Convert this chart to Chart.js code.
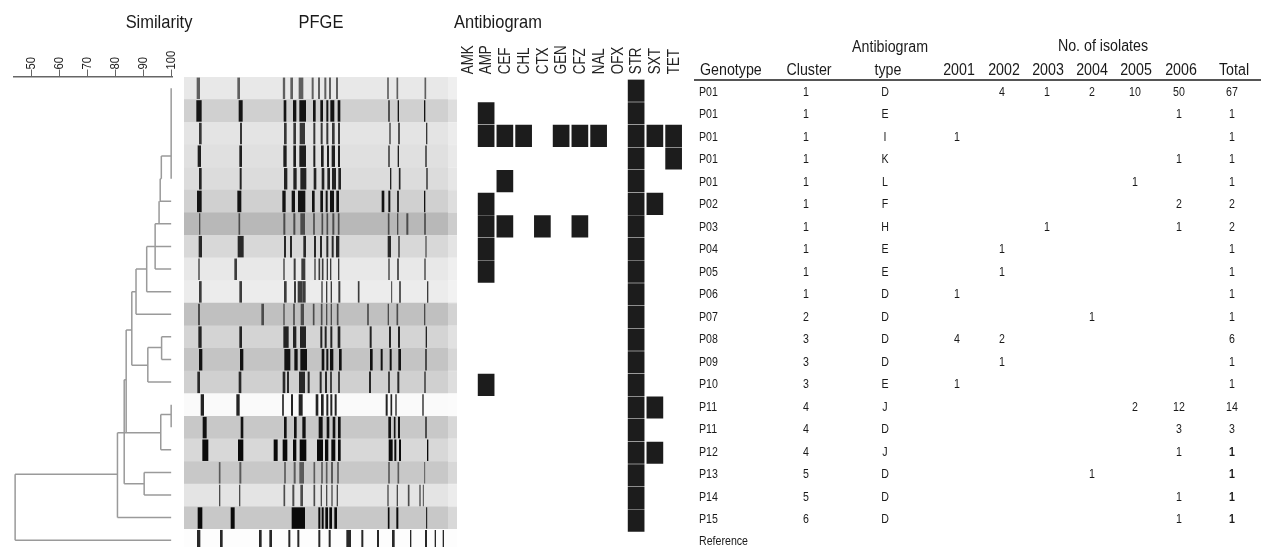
<!DOCTYPE html>
<html><head><meta charset="utf-8">
<style>
html,body{margin:0;padding:0;background:#fff;overflow:hidden;width:1261px;height:547px}
canvas{position:absolute}
#root{filter:blur(.25px);position:absolute;left:0;top:0;width:1261px;height:547px}
#gelWrap{filter:blur(.6px);position:absolute;left:184px;top:77px;width:273px;height:475px}
#heatWrap{filter:blur(.3px);position:absolute;left:448px;top:0;width:245px;height:532px}
#dendroWrap{filter:blur(.3px);position:absolute;left:4px;top:0;width:178px;height:547px}
.t{position:absolute;white-space:pre;font-family:"Liberation Sans",Arial,sans-serif;color:#1a1a1a;line-height:1;transform-origin:50% 50%}
.title{font-size:19px;transform:translate(-50%,-50%) scaleX(.866)}
.head{font-size:16px;transform:translate(-50%,-50%) scaleX(.89)}
.body{font-size:12.5px;transform:translate(-50%,-50%) scaleX(.85)}
.l{transform-origin:0 50%}
.head.l{transform:translate(0,-50%) scaleX(.89)}
.body.l{transform:translate(0,-50%) scaleX(.85)}
.b{font-weight:bold}
#rule{position:absolute;left:694px;top:79px;width:567px;height:2px;background:#555}
</style></head><body>
<div id="root"></div><div id="rule"></div>
<div id="dendroWrap"><canvas id="dendro" width="178" height="547" style="left:0;top:0"></canvas></div>
<div id="gelWrap"><canvas id="gel" width="273" height="475" style="left:0;top:0"></canvas></div>
<div id="heatWrap"><canvas id="heat" width="245" height="532" style="left:0;top:0"></canvas></div>
<script src="https://cdn.jsdelivr.net/npm/chart.js@4/dist/chart.umd.min.js"></script>
<script>
// ---- data ----
const similarityTicks=[50,60,70,80,90,100];
const drugs=["AMK","AMP","CEF","CHL","CTX","GEN","CFZ","NAL","OFX","STR","SXT","TET"];
const genotypes=["P01","P01","P01","P01","P01","P02","P03","P04","P05","P06","P07","P08","P09","P10","P11","P11","P12","P13","P14","P15"];
const clusters=[1,1,1,1,1,1,1,1,1,1,2,3,3,3,4,4,4,5,5,6];
const abTypes=["D","E","I","K","L","F","H","E","E","D","D","D","D","E","J","D","J","D","D","D"];
const years=["2001","2002","2003","2004","2005","2006"];
const y2001=[,,1,,,,,,,1,,4,,1,,,,,,,];
const y2002=[4,,,,,,,1,1,,,2,1,,,,,,,,];
const y2003=[1,,,,,,1,,,,,,,,,,,,,,];
const y2004=[2,,,,,,,,,,1,,,,,,,1,,,];
const y2005=[10,,,,1,,,,,,,,,,2,,,,,,];
const y2006=[50,1,,1,,2,1,,,,,,,,12,3,1,,1,1];
const totals=[67,1,1,1,1,2,2,1,1,1,1,6,1,1,14,3,1,1,1,1];
const resistance=[["STR"],["AMP","STR"],["AMP","CEF","CHL","GEN","CFZ","NAL","STR","SXT","TET"],["STR","TET"],["CEF","STR"],["AMP","STR","SXT"],["AMP","CEF","CTX","CFZ","STR"],["AMP","STR"],["AMP","STR"],["STR"],["STR"],["STR"],["STR"],["AMP","STR"],["STR","SXT"],["STR"],["STR","SXT"],["STR"],["STR"],["STR"]];
// dendrogram branches: [similarity A, lane A, similarity B, lane B]
const branches=[[99.8,0,99.8,4],[99.8,3,96.3,3],[96.3,3,96.3,4],[96.3,4,95.9,4],[95.9,4,95.9,5],[99.8,5,95.7,5],[95.5,5,95.5,6],[99.8,6,94.1,6],[94.1,6,94.1,8],[99.8,7,94.1,7],[99.8,8,94.1,8],[94.1,7,91.1,7],[91.1,7,91.1,9],[91.1,8,87.3,8],[99.8,9,91.1,9],[87.3,8,87.3,10],[99.8,10,87.3,10],[87.3,9,85.8,9],[85.8,9,85.8,12.26],[85.8,12.26,91.5,12.26],[91.5,11.47,91.5,13],[99.8,13,91.5,13],[91.5,11.47,96.4,11.47],[96.4,11,96.4,12],[99.8,11,96.4,11],[99.8,12,96.4,12],[85.8,10.7,83.8,10.7],[83.8,10.7,83.8,15.24],[83.8,12.9,83.1,12.9],[83.1,12.9,83.1,17.5],[83.1,17.5,90.2,17.5],[90.2,17,90.2,18],[99.8,17,90.2,17],[99.8,18,90.2,18],[83.8,15.24,96.1,15.24],[96.1,14.44,96.1,16],[99.8,16,96.1,16],[96.1,14.44,99.8,14.44],[99.8,14,99.8,15],[83.8,15.24,80.7,15.24],[80.7,15.24,80.7,19],[99.8,19,80.7,19],[80.7,17.08,44.3,17.08],[44.3,17.08,44.3,20],[44.3,20,99.8,20]];
// gel lanes: shade of lane background (0-255), darkness of its bands
const laneShade=[232,208,228,224,220,208,184,216,232,236,192,212,196,208,250,200,216,200,228,200,253];
const laneInk=[95,20,55,30,35,18,75,40,60,60,75,35,18,40,35,18,10,90,75,10,40];
// bands per lane: [migration position, band width]
const bands=[
[[595,10],[716,8],[852,7],[875,8],[903,14],[938,6],[957,6],[976,6],[990,6],[1011,6],[1164,5],[1192,5],[1276,5]],
[[597,16],[722,12],[855,8],[884,10],[908,20],[943,8],[965,8],[982,6],[997,12],[1017,8],[1167,4],[1195,4],[1274,4]],
[[601,8],[723,6],[856,8],[884,8],[907,16],[943,6],[965,6],[982,6],[1000,8],[1017,6],[1170,4],[1197,5],[1280,4]],
[[598,10],[722,8],[855,10],[884,8],[908,20],[943,6],[967,8],[984,6],[1000,10],[1017,6],[1167,4],[1195,4],[1278,4]],
[[601,8],[722,6],[857,10],[885,10],[910,18],[945,8],[969,8],[986,8],[1002,12],[1019,8],[1172,4],[1199,5],[1281,4]],
[[598,14],[718,12],[852,10],[880,10],[905,22],[940,8],[965,8],[980,6],[996,12],[1013,8],[1149,8],[1168,6],[1194,5],[1274,4]],
[[599,4],[718,5],[853,6],[883,6],[908,14],[942,5],[967,5],[982,5],[1000,6],[1016,5],[1166,5],[1193,4],[1222,6],[1275,5]],
[[601,10],[722,18],[855,6],[873,6],[914,8],[945,6],[963,6],[982,6],[998,6],[1013,10],[1168,10],[1197,4],[1278,3]],
[[597,4],[707,8],[852,4],[884,6],[910,12],[945,4],[958,5],[968,5],[982,4],[992,4],[1016,4],[1167,4],[1194,5],[1275,4]],
[[601,8],[722,8],[856,8],[885,6],[900,14],[912,10],[966,4],[980,4],[994,4],[1018,6],[1076,5],[1175,3],[1200,5],[1283,4]],
[[597,6],[788,8],[852,4],[882,5],[907,10],[941,5],[965,5],[980,4],[994,4],[1013,5],[1104,5],[1165,4],[1192,5],[1274,4]],
[[600,10],[722,8],[858,16],[884,10],[909,18],[964,6],[977,6],[994,6],[1017,8],[1112,6],[1170,6],[1197,6],[1279,4]],
[[602,10],[725,10],[862,18],[888,10],[911,20],[969,8],[982,6],[995,10],[1021,8],[1114,8],[1145,6],[1172,6],[1199,8],[1278,4]],
[[596,8],[720,8],[852,8],[864,6],[906,18],[926,6],[962,6],[978,6],[993,5],[1017,5],[1110,6],[1167,5],[1195,6],[1275,4]],
[[607,10],[714,10],[849,5],[876,6],[902,12],[951,8],[967,8],[982,6],[994,6],[1007,6],[1160,6],[1174,5],[1188,4],[1269,4]],
[[614,12],[726,8],[856,8],[886,8],[912,10],[962,12],[984,8],[1002,8],[1018,8],[1169,8],[1184,5],[1197,6],[1278,4]],
[[616,18],[722,16],[827,12],[855,14],[884,10],[909,20],[960,18],[980,10],[1000,12],[1018,8],[1172,12],[1186,6],[1200,6],[1283,4]],
[[659,5],[721,6],[855,5],[884,6],[905,14],[943,5],[966,5],[980,5],[996,6],[1014,5],[1167,5],[1195,5],[1274,3]],
[[659,4],[719,4],[853,5],[880,6],[905,8],[943,5],[964,4],[980,4],[996,4],[1012,4],[1164,4],[1192,4],[1226,5],[1260,4],[1270,3]],
[[600,14],[698,12],[895,40],[958,6],[968,6],[980,8],[992,8],[1007,8],[1166,5],[1192,6],[1280,3]],
[[596,10],[664,8],[781,8],[812,8],[868,6],[895,6],[958,6],[989,6],[1046,14],[1087,6],[1134,6],[1180,8],[1232,4],[1278,6],[1306,4],[1330,4]]
];

// ---- layout ----
const SANS='"Liberation Sans",Arial,sans-serif';
Chart.defaults.animation=false;Chart.defaults.responsive=false;
Chart.defaults.plugins.legend.display=false;Chart.defaults.plugins.tooltip.enabled=false;
const grayOf=v=>`rgb(${v},${v},${v})`;
// axis lettering in the reference is slightly condensed
function condense(canvas){const c=canvas.getContext('2d');const ft=c.fillText.bind(c);
 c.fillText=(t,x,y)=>ft(t,x,y,c.measureText(t).width*.84);return canvas;}
const zeroSidePad=s=>{s.paddingLeft=0;s.paddingRight=0;};

// dendrogram
const dendroPts=[];branches.forEach(b=>{dendroPts.push({x:b[0],y:b[1]},{x:b[2],y:b[3]},{x:null,y:null});});
new Chart(condense(document.getElementById('dendro')),{type:'scatter',
 data:{datasets:[{data:dendroPts,showLine:true,spanGaps:false,pointRadius:0,borderColor:'#9a9a9a',borderWidth:1.5,clip:false}]},
 options:{layout:{padding:{left:10,right:10,top:0,bottom:0}},
 scales:{
  x:{type:'linear',position:'top',min:43.9,max:100.1,
     afterBuildTicks:s=>{s.ticks=similarityTicks.map(v=>({value:v}));},
     afterFit:s=>{s.height=76.5;zeroSidePad(s);},
     border:{display:true,color:'#666',width:1.4},
     grid:{drawOnChartArea:false,drawTicks:true,tickLength:7,color:'#666'},
     ticks:{minRotation:90,maxRotation:90,padding:0,labelOffset:16,color:'#222',font:{family:SANS,size:13.5}}},
  y:{type:'linear',display:false,reverse:true,min:-0.522,max:20.3}
 }}});

// PFGE gel
const laneNames=genotypes.map((g,i)=>"lane"+i).concat(["Reference"]);
const maxBands=Math.max(...bands.map(b=>b.length));
const gelSets=[{order:9,data:laneNames.map(()=>[552,1371]),backgroundColor:laneShade.map(grayOf)},
 {order:5,data:laneNames.map(()=>[1345,1371]),backgroundColor:'rgba(255,255,255,.3)'}];
for(let j=0;j<maxBands;j++){
 gelSets.push({order:1,barPercentage:.95,data:bands.map(b=>b[j]?[b[j][0]-b[j][1]/2,b[j][0]+b[j][1]/2]:null),backgroundColor:laneInk.map(grayOf)});
}
new Chart(document.getElementById('gel'),{type:'bar',
 data:{labels:laneNames,datasets:gelSets},
 options:{indexAxis:'y',layout:{padding:0},
  datasets:{bar:{grouped:false,barPercentage:1,categoryPercentage:1,borderWidth:0}},
  scales:{x:{type:'linear',display:false,min:552,max:1371},y:{type:'category',display:false}}}});

// antibiogram heat map
const heatSets=resistance.map((r,lane)=>({data:drugs.map(d=>r.includes(d)?[lane-0.49,lane+0.49]:null),backgroundColor:'#1c1c1c'}));
new Chart(condense(document.getElementById('heat')),{type:'bar',
 data:{labels:drugs,datasets:heatSets},
 options:{layout:{padding:{left:10,right:10,top:0,bottom:0}},
  datasets:{bar:{grouped:false,barPercentage:.89,categoryPercentage:1,borderWidth:0}},
  scales:{
   x:{type:'category',position:'top',afterFit:s=>{s.height=79.3;zeroSidePad(s);},border:{display:false},
      grid:{display:false,drawTicks:false},
      ticks:{autoSkip:false,minRotation:90,maxRotation:90,padding:5,labelOffset:20,color:'#222',font:{family:SANS,size:16}}},
   y:{type:'linear',display:false,reverse:true,min:-0.5,max:19.5}
  }}});

// titles and table
const root=document.getElementById('root');
function put(text,x,y,cls){const e=document.createElement('div');e.className='t '+cls;e.textContent=text;e.style.left=x+'px';e.style.top=y+'px';root.appendChild(e);}
put("Similarity",159,21,'title');put("PFGE",321,21,'title');put("Antibiogram",498,21,'title');
put("Antibiogram",890,47,'head');put("No. of isolates",1103,46,'head');
put("Genotype",700,70,'head l');put("Cluster",808.5,70,'head');put("type",888,70,'head');
const yearX=[959,1004,1048,1092,1136,1181];
years.forEach((y,i)=>put(y,yearX[i],70,'head'));put("Total",1234,70,'head');
const yearCols=[y2001,y2002,y2003,y2004,y2005,y2006];
const cellX=[957,1002,1047,1092,1135,1179];
genotypes.forEach((g,i)=>{const Y=91.7+22.5*i;
 put(g,699,Y,'body l');put(String(clusters[i]),805.7,Y,'body');put(abTypes[i],885,Y,'body');
 yearCols.forEach((c,k)=>{if(c[i]!==undefined)put(String(c[i]),cellX[k],Y,'body');});
 put(String(totals[i]),1232,Y,'body'+(i>=16?' b':''));
});
put("Reference",699,541,'body l');
</script></body></html>
